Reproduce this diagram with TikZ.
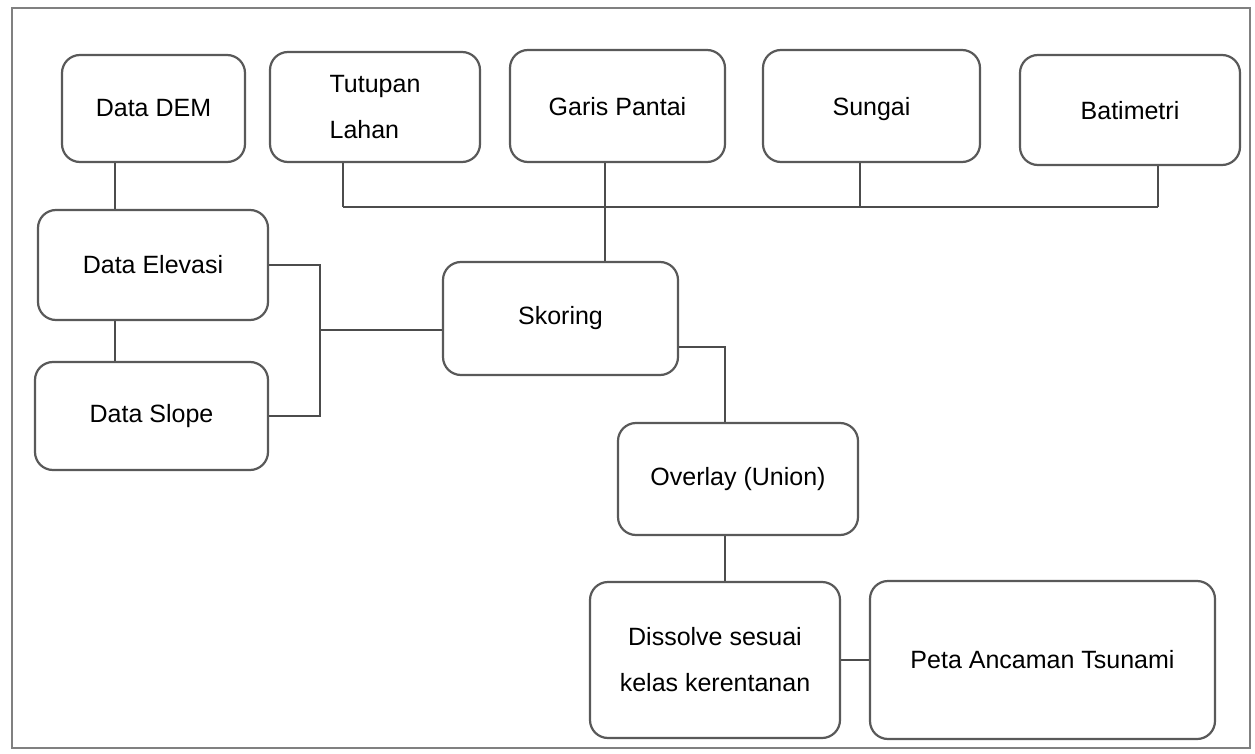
\documentclass[tikz,border=0pt]{standalone}
\usepackage{fontspec}
\setmainfont{Liberation Sans}
\begin{document}
\begin{tikzpicture}[x=1pt,y=-1pt,
  box/.style={draw=black!65, line width=2.2pt, rounded corners=18pt, fill=white,
    align=center, font=\fontsize{25}{46}\selectfont, inner sep=4pt},
  link/.style={draw=black!70, line width=2pt},
  frame/.style={draw=black!50, line width=2.5pt}]
\useasboundingbox (0,0) rectangle (1255,754);
\draw[frame] (12,8) rectangle (1250,748);
% nodes
\node[box, minimum width=183pt, minimum height=107pt] (dem) at (153.5,108.5) {Data DEM};
\node[box, minimum width=210pt, minimum height=110pt, align=left] (tut) at (375,107) {Tutupan\\Lahan};
\node[box, minimum width=215pt, minimum height=112pt] (gp) at (617.5,106) {Garis Pantai\strut};
\node[box, minimum width=217pt, minimum height=112pt] (sun) at (871.5,106) {Sungai\strut};
\node[box, minimum width=220pt, minimum height=110pt] (bat) at (1130,110) {Batimetri\strut};
\node[box, minimum width=230pt, minimum height=110pt] (elev) at (153,265) {Data Elevasi};
\node[box, minimum width=233pt, minimum height=108pt] (slope) at (151.5,416) {Data Slope};
\node[box, minimum width=235pt, minimum height=113pt] (sk) at (560.5,318.5) {Skoring};
\node[box, minimum width=240pt, minimum height=112pt] (ov) at (738,479) {Overlay (Union)};
\node[box, minimum width=250pt, minimum height=156pt] (dis) at (715,660) {Dissolve sesuai\\kelas kerentanan};
\node[box, minimum width=345pt, minimum height=158pt] (peta) at (1042.5,660) {Peta Ancaman Tsunami};
% junction coordinates
\coordinate (busL) at (343,207);
\coordinate (busS) at (860,207);
\coordinate (busR) at (1158,207);
\coordinate (jgp) at (605,207);
\coordinate (jdem) at (115,185);
\coordinate (jel) at (320,330);
\coordinate (jsk) at (725,347);
% connectors
\draw[link] (busL) -- (busR);
\draw[link] (tut.south -| busL) -- (busL);
\draw[link] (sun.south -| busS) -- (busS);
\draw[link] (bat.south -| busR) -- (busR);
\draw[link] (gp.south -| jgp) -- (sk.north -| jgp);
\draw[link] (dem.south -| jdem) -- (elev.north -| jdem);
\draw[link] (elev.south -| jdem) -- (slope.north -| jdem);
\draw[link] (elev.east) -- (elev.east -| jel) -- (slope.east -| jel) -- (slope.east);
\draw[link] (jel) -- (sk.west |- jel);
\draw[link] (sk.east |- jsk) -- (jsk) -- (ov.north -| jsk);
\draw[link] (ov.south -| jsk) -- (dis.north -| jsk);
\draw[link] (dis.east) -- (dis.east -| peta.west);
\end{tikzpicture}
\end{document}
